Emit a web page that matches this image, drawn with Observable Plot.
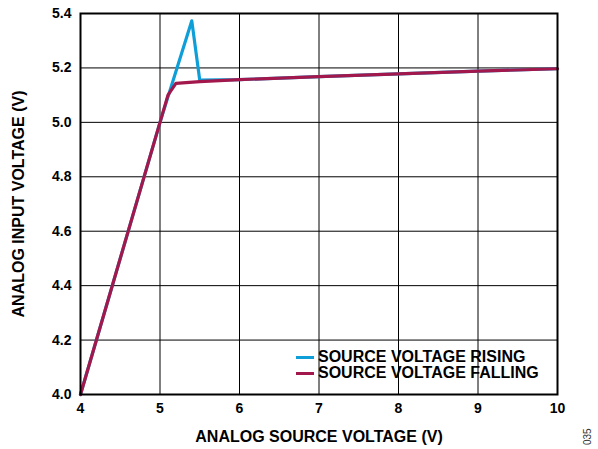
<!DOCTYPE html>
<html>
<head>
<meta charset="utf-8">
<script src="https://cdn.jsdelivr.net/npm/d3@7"></script>
<script src="https://cdn.jsdelivr.net/npm/@observablehq/plot@0.6"></script>
<style>
  html, body { margin: 0; padding: 0; background: #fff; }
  #wrap { position: relative; width: 598px; height: 449px; font-family: "Liberation Sans", Arial, sans-serif; }
  #legend { position: absolute; left: 296px; top: 349px; font-weight: bold; font-size: 16px; line-height: 16px; color: #000; }
  #legend .row { display: flex; align-items: center; height: 16px; }
  #legend .sw { width: 18px; height: 3px; margin-right: 4px; }
  #code { position: absolute; left: 582px; top: 445px; font-size: 10px; color: #333; transform: rotate(-90deg); transform-origin: 0 0; }
</style>
</head>
<body>
<div id="wrap"></div>
<script>
const risingX  = [4.0, 5.0, 5.4, 5.5, 6, 7, 8, 9, 10];
const risingY  = [4.0, 5.0, 5.373, 5.155, 5.157, 5.168, 5.178, 5.188, 5.197];
const fallingX = [4.0, 5.0, 5.1, 5.2, 5.5, 6, 7, 8, 9, 10];
const fallingY = [4.0, 5.0, 5.10, 5.143, 5.15, 5.157, 5.168, 5.178, 5.188, 5.197];
const seriesNames = ["SOURCE VOLTAGE RISING", "SOURCE VOLTAGE FALLING"];
const seriesColors = ["#0f9fd8", "#a3184c"];
const xTicks = [4, 5, 6, 7, 8, 9, 10];
const yTicks = [4.0, 4.2, 4.4, 4.6, 4.8, 5.0, 5.2, 5.4];

const rising = risingX.map((x, i) => ({x, y: risingY[i]}));
const falling = fallingX.map((x, i) => ({x, y: fallingY[i]}));

const chart = Plot.plot({
  width: 598,
  height: 449,
  marginLeft: 80,
  marginRight: 41,
  marginTop: 13,
  marginBottom: 55,
  style: { fontFamily: "'Liberation Sans', Arial, sans-serif", fontSize: "16px", fontWeight: "bold", color: "#000", background: "#fff" },
  x: { domain: [4, 10] },
  y: { domain: [4.0, 5.4] },
  marks: [
    Plot.gridX(xTicks, { stroke: "#000", strokeOpacity: 1, strokeWidth: 1 }),
    Plot.gridY(yTicks, { stroke: "#000", strokeOpacity: 1, strokeWidth: 1 }),
    Plot.axisX(xTicks, { tickSize: 0, tickPadding: 9, fontSize: 14, label: null }),
    Plot.axisX({ ticks: [], tickSize: 0, label: "ANALOG SOURCE VOLTAGE (V)", labelAnchor: "center", labelOffset: 47, labelArrow: "none" }),
    Plot.axisY(yTicks, { tickSize: 0, tickPadding: 9, fontSize: 14, tickFormat: d3.format(".1f"), label: null }),
    Plot.axisY({ ticks: [], tickSize: 0, label: "ANALOG INPUT VOLTAGE (V)", labelAnchor: "center", labelOffset: 68, labelArrow: "none" }),
    Plot.line(rising, { x: "x", y: "y", stroke: seriesColors[0], strokeWidth: 3.2 }),
    Plot.line(falling, { x: "x", y: "y", stroke: seriesColors[1], strokeWidth: 3.2 }),
    Plot.frame({ stroke: "#000", strokeWidth: 2 })
  ]
});
const wrap = document.getElementById("wrap");
wrap.appendChild(chart);

const legend = document.createElement("div");
legend.id = "legend";
seriesNames.forEach((n, i) => {
  const row = document.createElement("div");
  row.className = "row";
  const sw = document.createElement("span");
  sw.className = "sw";
  sw.style.background = seriesColors[i];
  const t = document.createElement("span");
  t.textContent = n;
  row.appendChild(sw); row.appendChild(t);
  legend.appendChild(row);
});
wrap.appendChild(legend);

const code = document.createElement("div");
code.id = "code";
code.textContent = "035";
wrap.appendChild(code);
</script>
</body>
</html>
